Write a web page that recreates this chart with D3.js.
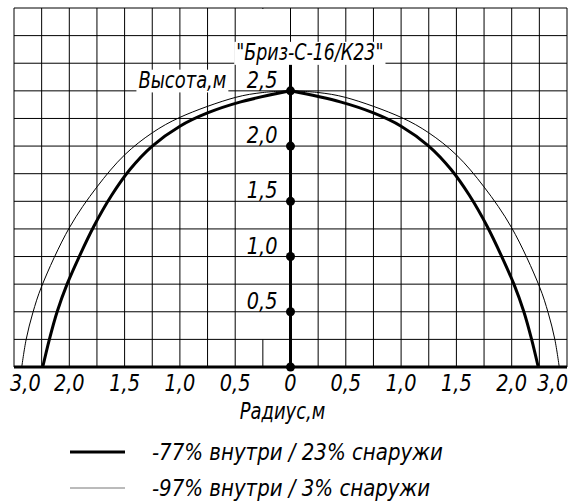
<!DOCTYPE html>
<html>
<head>
<meta charset="utf-8">
<script src="https://cdn.jsdelivr.net/npm/d3@7"></script>
<style>
  body { margin: 0; background: #fff; }
  text { font-family: "DejaVu Sans", sans-serif; font-style: oblique; fill: #000; transform-box: fill-box; }
</style>
</head>
<body>
<div id="graph"></div>
<script>
let width = 570, height = 504;

// Data (radius m, height m)
let thickRadius = [-2.24, -2.18, -2.11, -2.02, -1.91, -1.78, -1.62, -1.45, -1.25, -1.0, -0.75, -0.45, 0, 0.45, 0.75, 1.0, 1.25, 1.45, 1.62, 1.78, 1.91, 2.02, 2.11, 2.18, 2.24];
let thickHeight = [0, 0.25, 0.5, 0.75, 1.0, 1.27, 1.55, 1.79, 2.0, 2.18, 2.3, 2.4, 2.5, 2.4, 2.3, 2.18, 2.0, 1.79, 1.55, 1.27, 1.0, 0.75, 0.5, 0.25, 0];
let thinRadius = [-2.43, -2.39, -2.33, -2.25, -2.0, -1.75, -1.5, -1.25, -1.0, -0.5, -0.25, 0, 0.25, 0.5, 1.0, 1.25, 1.5, 1.75, 2.0, 2.25, 2.33, 2.39, 2.43];
let thinHeight = [0, 0.25, 0.49, 0.73, 1.26, 1.63, 1.92, 2.12, 2.26, 2.44, 2.485, 2.5, 2.485, 2.44, 2.26, 2.12, 1.92, 1.63, 1.26, 0.73, 0.49, 0.25, 0];

let xTickValues = [-2.5, -2.0, -1.5, -1.0, -0.5, 0, 0.5, 1.0, 1.5, 2.0, 2.5];
let xTickLabels = ["3,0", "2,0", "1,5", "1,0", "0,5", "0", "0,5", "1,0", "1,5", "2,0", "3,0"];
let yTickValues = [0.5, 1.0, 1.5, 2.0, 2.5];
let yTickLabels = ["0,5", "1,0", "1,5", "2,0", "2,5"];
let legendLabels = ["-77% внутри / 23% снаружи", "-97% внутри / 3% снаружи"];

let svg = d3.select("#graph").append("svg")
  .attr("width", width)
  .attr("height", height);

let x = d3.scaleLinear().domain([-2.5, 2.5]).range([14, 567]);
let y = d3.scaleLinear().domain([0, 3.25]).range([367, 8]);

// narrow drafting-style text: squeeze horizontally around the anchor side
function narrow(sel, anchor, k) {
  let origin = anchor == "end" ? "right center" : anchor == "middle" ? "center center" : "left center";
  sel.style("transform", "scaleX(" + (k || 0.84) + ")").style("transform-origin", origin);
}

// Grid
let grid = svg.append("g").attr("stroke", "#000").attr("stroke-width", 1);
grid.selectAll("line.v")
  .data(d3.range(-2.5, 2.5001, 0.25))
  .enter().append("line")
  .attr("class", "v")
  .attr("x1", d => x(d)).attr("x2", d => x(d))
  .attr("y1", y(0)).attr("y2", y(3.25));

// blank column behind the height labels
svg.append("rect")
  .attr("x", x(-0.5) + 1.5)
  .attr("y", y(3.25) + 1)
  .attr("width", x(0) - x(-0.5) - 3)
  .attr("height", y(0.25) - y(3.25) - 1)
  .attr("fill", "#fff");

let grid2 = svg.append("g").attr("stroke", "#000").attr("stroke-width", 1);
grid2.selectAll("line.h")
  .data(d3.range(0, 3.2501, 0.25))
  .enter().append("line")
  .attr("x1", x(-2.5)).attr("x2", x(2.5))
  .attr("y1", d => y(d)).attr("y2", d => y(d));

// Axes
svg.append("line")
  .attr("x1", x(-2.5)).attr("x2", x(2.5))
  .attr("y1", y(0)).attr("y2", y(0))
  .attr("stroke", "#000").attr("stroke-width", 3);
svg.append("line")
  .attr("x1", x(0)).attr("x2", x(0))
  .attr("y1", y(0)).attr("y2", y(2.75))
  .attr("stroke", "#000").attr("stroke-width", 3);

// Curves (split at the top so the apex stays pointed)
function drawCurve(rs, hs, w) {
  let pts = rs.map((r, i) => [r, hs[i]]);
  let line = d3.line().x(d => x(d[0])).y(d => y(d[1])).curve(d3.curveCatmullRom.alpha(0.5));
  let left = pts.filter(d => d[0] <= 0);
  let right = pts.filter(d => d[0] >= 0);
  [left, right].forEach(p => {
    svg.append("path")
      .attr("d", line(p))
      .attr("fill", "none")
      .attr("stroke", "#000")
      .attr("stroke-width", w);
  });
}
drawCurve(thinRadius, thinHeight, 1);
drawCurve(thickRadius, thickHeight, 3);

// Dots on the height axis
svg.selectAll("circle.tick")
  .data([0].concat(yTickValues))
  .enter().append("circle")
  .attr("cx", x(0))
  .attr("cy", d => y(d))
  .attr("r", 4.5)
  .attr("fill", "#000");

// Height tick labels
svg.selectAll("text.ylab")
  .data(yTickValues)
  .enter().append("text")
  .attr("x", x(0) - 13)
  .attr("y", d => y(d) - 3)
  .attr("text-anchor", "end")
  .style("font-size", "23px")
  .text((d, i) => yTickLabels[i])
  .call(narrow, "end");

// Radius tick labels
svg.selectAll("text.xlab")
  .data(xTickValues)
  .enter().append("text")
  .attr("x", d => x(d))
  .attr("y", y(0) + 24)
  .attr("text-anchor", "middle")
  .style("font-size", "23px")
  .text((d, i) => xTickLabels[i])
  .call(narrow, "middle")
  .each(function() {
    let b = this.getBBox(), w = b.width * 0.84, cx = b.x + b.width / 2;
    if (cx - w / 2 < 10) d3.select(this).attr("x", +d3.select(this).attr("x") + (10 - (cx - w / 2)));
    if (cx + w / 2 > 568) d3.select(this).attr("x", +d3.select(this).attr("x") - (cx + w / 2 - 568));
  });

// Labels with white boxes
function boxedLabel(tx, ty, anchor, str, size, k) {
  let g = svg.append("g");
  let rect = g.append("rect").attr("fill", "#fff");
  let t = g.append("text")
    .attr("x", tx).attr("y", ty)
    .attr("text-anchor", anchor)
    .style("font-size", size + "px")
    .text(str)
    .call(narrow, anchor, k);
  let b = t.node().getBBox(), w = b.width * k;
  let left = anchor == "end" ? b.x + b.width - w : b.x;
  rect.attr("x", left - 2).attr("y", b.y + 3).attr("width", w + 4).attr("height", b.height - 4);
}
boxedLabel(x(-0.5) + 1, y(2.75) - 3, "start", "\"Бриз-С-16/К23\"", 23, 0.76);
boxedLabel(x(-0.58), y(2.5) - 3, "end", "Высота,м", 23, 0.78);

svg.append("text")
  .attr("x", x(0) - 8)
  .attr("y", y(0) + 52)
  .attr("text-anchor", "middle")
  .style("font-size", "23px")
  .text("Радиус,м")
  .call(narrow, "middle", 0.78);

// Legend
let legend = svg.append("g");
[3, 1].forEach((w, i) => {
  let ly = 452 + i * 36;
  legend.append("line")
    .attr("x1", 70).attr("x2", 125)
    .attr("y1", ly).attr("y2", ly)
    .attr("stroke", i == 0 ? "#000" : "#777")
    .attr("stroke-width", w);
  legend.append("text")
    .attr("x", 152)
    .attr("y", ly + 8)
    .style("font-size", "23px")
    .text(legendLabels[i])
    .call(narrow, "start", 0.86);
});
</script>
</body>
</html>
